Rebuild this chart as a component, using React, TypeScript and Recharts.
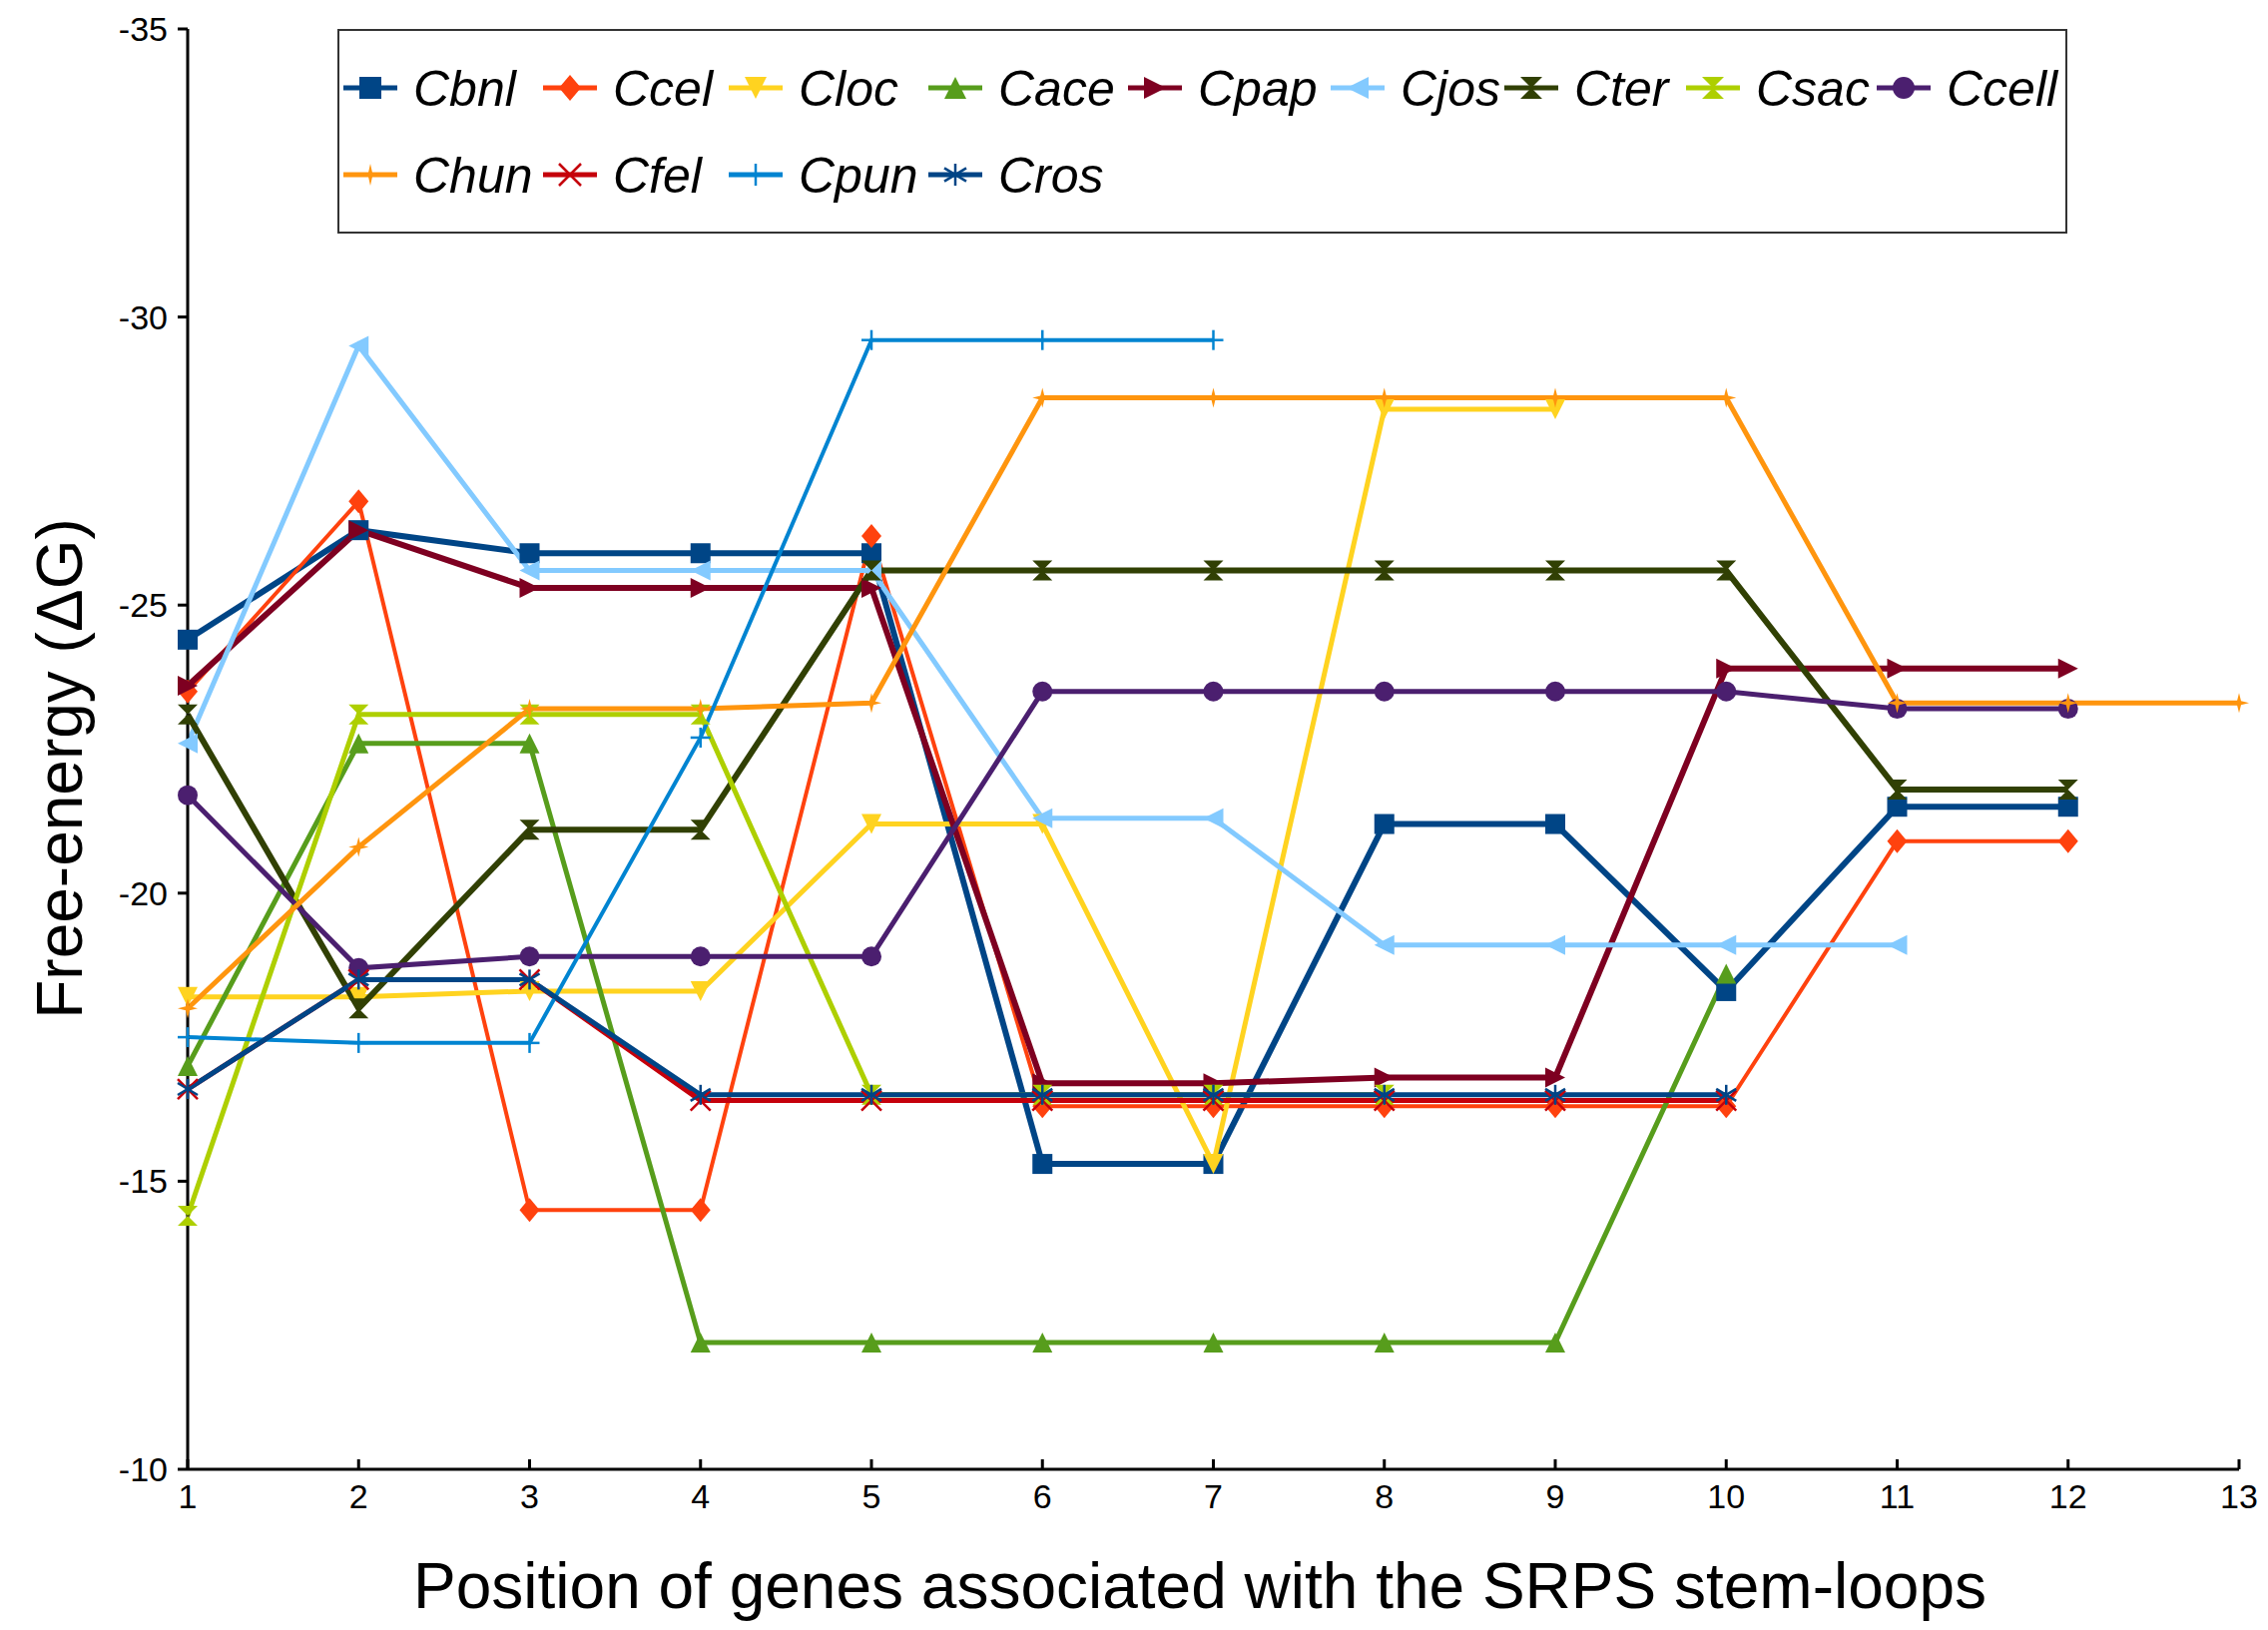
import React from 'react';
import { LineChart, Line, XAxis, YAxis } from 'recharts';

const positions = [1, 2, 3, 4, 5, 6, 7, 8, 9, 10, 11, 12, 13];
const yTicks = [-35, -30, -25, -20, -15, -10];

const Cbnl = [-24.4, -26.3, -25.9, -25.9, -25.9, -15.3, -15.3, -21.2, -21.2, -18.3, -21.5, -21.5];
const Ccel = [-23.5, -26.8, -14.5, -14.5, -26.2, -16.3, -16.3, -16.3, -16.3, -16.3, -20.9, -20.9];
const Cloc = [-18.2, -18.2, -18.3, -18.3, -21.2, -21.2, -15.3, -28.4, -28.4];
const Cace = [-17.0, -22.6, -22.6, -12.2, -12.2, -12.2, -12.2, -12.2, -12.2, -18.6];
const Cpap = [-23.6, -26.3, -25.3, -25.3, -25.3, -16.7, -16.7, -16.8, -16.8, -23.9, -23.9, -23.9];
const Cjos = [-22.6, -29.5, -25.6, -25.6, -25.6, -21.3, -21.3, -19.1, -19.1, -19.1, -19.1];
const Cter = [-23.1, -18.0, -21.1, -21.1, -25.6, -25.6, -25.6, -25.6, -25.6, -25.6, -21.8, -21.8];
const Csac = [-14.4, -23.1, -23.1, -23.1, -16.5, -16.5, -16.5, -16.5];
const Ccell = [-21.7, -18.7, -18.9, -18.9, -18.9, -23.5, -23.5, -23.5, -23.5, -23.5, -23.2, -23.2];
const Chun = [-18.0, -20.8, -23.2, -23.2, -23.3, -28.6, -28.6, -28.6, -28.6, -28.6, -23.3, -23.3, -23.3];
const Cfel = [-16.6, -18.5, -18.5, -16.4, -16.4, -16.4, -16.4, -16.4, -16.4, -16.4];
const Cpun = [-17.5, -17.4, -17.4, -22.7, -29.6, -29.6, -29.6];
const Cros = [-16.6, -18.5, -18.5, -16.5, -16.5, -16.5, -16.5, -16.5, -16.5, -16.5];

type Shape =
  | 'square' | 'diamond' | 'down' | 'up' | 'right' | 'left' | 'bowtie'
  | 'hourglass' | 'circle' | 'star' | 'x' | 'plus' | 'asterisk';

interface SeriesDef {
  name: string;
  values: number[];
  color: string;
  shape: Shape;
  width: number;
}

const SERIES: SeriesDef[] = [
  { name: 'Cbnl', values: Cbnl, color: '#004586', shape: 'square', width: 6 },
  { name: 'Ccel', values: Ccel, color: '#ff420e', shape: 'diamond', width: 4 },
  { name: 'Cloc', values: Cloc, color: '#ffd320', shape: 'down', width: 5 },
  { name: 'Cace', values: Cace, color: '#579d1c', shape: 'up', width: 5 },
  { name: 'Cpap', values: Cpap, color: '#7e0021', shape: 'right', width: 6 },
  { name: 'Cjos', values: Cjos, color: '#83caff', shape: 'left', width: 5 },
  { name: 'Cter', values: Cter, color: '#314004', shape: 'bowtie', width: 6 },
  { name: 'Csac', values: Csac, color: '#aecf00', shape: 'hourglass', width: 5 },
  { name: 'Ccell', values: Ccell, color: '#4b1f6f', shape: 'circle', width: 5 },
  { name: 'Chun', values: Chun, color: '#ff950e', shape: 'star', width: 5 },
  { name: 'Cfel', values: Cfel, color: '#c5000b', shape: 'x', width: 5 },
  { name: 'Cpun', values: Cpun, color: '#0084d1', shape: 'plus', width: 4 },
  { name: 'Cros', values: Cros, color: '#004586', shape: 'asterisk', width: 5 },
];

const data = positions.map((pos, i) => {
  const row: Record<string, number | null> = { pos };
  SERIES.forEach((s) => {
    row[s.name] = i < s.values.length ? s.values[i] : null;
  });
  return row;
});

const FONT = '"Liberation Sans", Arial, sans-serif';

function Marker({ shape, cx, cy, color, h = 10 }: { shape: Shape; cx: number; cy: number; color: string; h?: number }) {
  const p = (pts: number[][]) => pts.map(([x, y]) => `${cx + x},${cy + y}`).join(' ');
  switch (shape) {
    case 'square':
      return <rect x={cx - h} y={cy - h} width={h * 2} height={h * 2} fill={color} />;
    case 'diamond':
      return <polygon points={p([[0, -h - 2], [h, 0], [0, h + 2], [-h, 0]])} fill={color} />;
    case 'down':
      return <polygon points={p([[-h, -h], [h, -h], [0, h]])} fill={color} />;
    case 'up':
      return <polygon points={p([[-h, h], [h, h], [0, -h]])} fill={color} />;
    case 'right':
      return <polygon points={p([[-h, -h], [h, 0], [-h, h]])} fill={color} />;
    case 'left':
      return <polygon points={p([[h, -h], [-h, 0], [h, h]])} fill={color} />;
    case 'bowtie':
      return <polygon points={p([[-h, -h], [0, 0], [-h, h]]) + ' ' + p([[h, h], [0, 0], [h, -h]])} fill={color} />;
    case 'hourglass':
      return <polygon points={p([[-h, -h], [h, -h], [0, 0], [h, h], [-h, h], [0, 0]])} fill={color} />;
    case 'circle':
      return <circle cx={cx} cy={cy} r={h} fill={color} />;
    case 'star':
      return <polygon points={p([[0, -h], [2, -2], [h, 0], [2, 2], [0, h], [-2, 2], [-h, 0], [-2, -2]])} fill={color} />;
    case 'x':
      return (
        <g stroke={color} strokeWidth={2.5}>
          <line x1={cx - h} y1={cy - h} x2={cx + h} y2={cy + h} />
          <line x1={cx - h} y1={cy + h} x2={cx + h} y2={cy - h} />
        </g>
      );
    case 'plus':
      return (
        <g stroke={color} strokeWidth={2.5}>
          <line x1={cx - h} y1={cy} x2={cx + h} y2={cy} />
          <line x1={cx} y1={cy - h} x2={cx} y2={cy + h} />
        </g>
      );
    case 'asterisk':
      return (
        <g stroke={color} strokeWidth={2.5}>
          <line x1={cx} y1={cy - h} x2={cx} y2={cy + h} />
          <line x1={cx - h} y1={cy - h * 0.6} x2={cx + h} y2={cy + h * 0.6} />
          <line x1={cx - h} y1={cy + h * 0.6} x2={cx + h} y2={cy - h * 0.6} />
        </g>
      );
  }
  return null;
}

function makeDot(s: SeriesDef) {
  return (props: any) => {
    const { cx, cy, value, index } = props;
    if (cx == null || cy == null || value == null) return <g key={`${s.name}-${index}`} />;
    return (
      <g key={`${s.name}-${index}`}>
        <Marker shape={s.shape} cx={cx} cy={cy} color={s.color} />
      </g>
    );
  };
}

function XTick(props: any) {
  const { x, y, payload } = props;
  const axisY = y - 15;
  return (
    <g>
      <line x1={x} y1={axisY} x2={x} y2={axisY - 10} stroke="#000" strokeWidth={3} />
      <text x={x} y={y} dy="0.71em" textAnchor="middle" fontSize={34} fontFamily={FONT} fill="#000">
        {payload.value}
      </text>
    </g>
  );
}

// legend columns: x of marker centre inside the legend box
const LEGEND_COLS = [31, 231, 417, 617, 817, 1020, 1194, 1376, 1567];
const LEGEND_ROWS = [59, 146];

function LegendBox() {
  return (
    <div
      style={{
        position: 'absolute',
        left: 338,
        top: 29,
        width: 1729,
        height: 201,
        border: '2px solid #333',
        background: '#fff',
      }}
    >
      <svg width={1729} height={201}>
        {SERIES.map((s, i) => {
          const col = i < 9 ? i : i - 9;
          const row = i < 9 ? 0 : 1;
          const mx = LEGEND_COLS[col];
          const my = LEGEND_ROWS[row] - 2;
          return (
            <g key={s.name}>
              <line x1={mx - 27} y1={my} x2={mx + 27} y2={my} stroke={s.color} strokeWidth={5} />
              <Marker shape={s.shape} cx={mx} cy={my} color={s.color} h={11} />
              <text x={mx + 43} y={my + 18} fontSize={50} fontStyle="italic" fontFamily={FONT} fill="#000">
                {s.name}
              </text>
            </g>
          );
        })}
      </svg>
    </div>
  );
}

export default function App() {
  return (
    <div style={{ position: 'absolute', left: 0, top: 0, width: 2272, height: 1633, background: '#fff' }}>
      <LineChart width={2272} height={1633} data={data} margin={{ top: 29, right: 29, left: 88, bottom: 0 }}>
        <XAxis
          dataKey="pos"
          type="number"
          domain={[1, 13]}
          ticks={positions}
          height={161}
          tickSize={0}
          tickMargin={15}
          tick={<XTick />}
          axisLine={{ stroke: '#000', strokeWidth: 3 }}
          label={() => (
            <text x={1202} y={1611} textAnchor="middle" fontSize={64} fontFamily={FONT} fill="#000">
              Position of genes associated with the SRPS stem-loops
            </text>
          )}
        />
        <YAxis
          type="number"
          domain={[-35, -10]}
          reversed
          ticks={yTicks}
          width={100}
          tickSize={10}
          tickMargin={10}
          tick={{ fontSize: 34, fontFamily: FONT, fill: '#000' }}
          tickLine={{ stroke: '#000', strokeWidth: 3 }}
          axisLine={{ stroke: '#000', strokeWidth: 3 }}
          allowDataOverflow
          label={() => (
            <text
              x={82}
              y={770}
              transform="rotate(-90 82 770)"
              textAnchor="middle"
              fontSize={64}
              fontFamily={FONT}
              fill="#000"
            >
              Free-energy (ΔG)
            </text>
          )}
        />
        {SERIES.map((s) => (
          <Line
            key={s.name}
            type="linear"
            dataKey={s.name}
            stroke={s.color}
            strokeWidth={s.width}
            dot={makeDot(s)}
            activeDot={false}
            isAnimationActive={false}
            connectNulls={false}
          />
        ))}
      </LineChart>
      <LegendBox />
    </div>
  );
}
